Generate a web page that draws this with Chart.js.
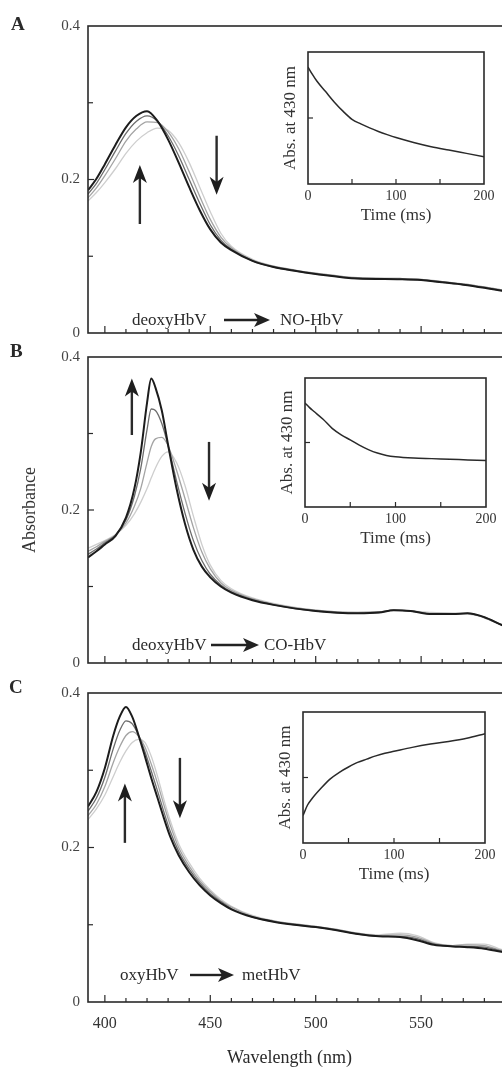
<!DOCTYPE html>
<html>
<head>
<meta charset="utf-8">
<script src="https://cdn.jsdelivr.net/npm/chart.js@4.4.1/dist/chart.umd.min.js"></script>
<style>
  html, body { margin: 0; padding: 0; background: #fff; overflow: hidden; }
  #page { position: relative; width: 502px; height: 1067px; overflow: hidden;
          font-family: "Liberation Serif", "DejaVu Serif", serif; color: #2a2a2a; }
  canvas { position: absolute; }
  .lbl { position: absolute; white-space: nowrap; font-size: 17px; line-height: 20px; }
  .panel { position: absolute; font-weight: bold; font-size: 19px; line-height: 20px; }
  .arr { position: absolute; }
</style>
</head>
<body>
<div id="page">
  <canvas id="mainA" width="530" height="350" style="left:0;top:0"></canvas>
  <canvas id="mainB" width="530" height="340" style="left:0;top:340px"></canvas>
  <canvas id="mainC" width="530" height="397" style="left:0;top:670px"></canvas>
  <canvas id="insetA"></canvas>
  <canvas id="insetB"></canvas>
  <canvas id="insetC"></canvas>

  <div class="panel" style="left:11px;top:14px">A</div>
  <div class="panel" style="left:10px;top:341px">B</div>
  <div class="panel" style="left:9px;top:677px">C</div>

  <!-- reaction labels -->
  <div class="lbl" style="left:132px;top:310px">deoxyHbV</div>
  <svg class="arr" style="left:224px;top:312px" width="46" height="16"><line x1="0" y1="8" x2="34" y2="8" stroke="#222" stroke-width="2.4"/><polygon points="30,1 46,8 30,15 34,8" fill="#222"/></svg>
  <div class="lbl" style="left:280px;top:310px">NO-HbV</div>

  <div class="lbl" style="left:132px;top:635px">deoxyHbV</div>
  <svg class="arr" style="left:211px;top:637px" width="48" height="16"><line x1="0" y1="8" x2="36" y2="8" stroke="#222" stroke-width="2.4"/><polygon points="32,1 48,8 32,15 36,8" fill="#222"/></svg>
  <div class="lbl" style="left:264px;top:635px">CO-HbV</div>

  <div class="lbl" style="left:120px;top:965px">oxyHbV</div>
  <svg class="arr" style="left:190px;top:967px" width="44" height="16"><line x1="0" y1="8" x2="32" y2="8" stroke="#222" stroke-width="2.4"/><polygon points="28,1 44,8 28,15 32,8" fill="#222"/></svg>
  <div class="lbl" style="left:242px;top:965px">metHbV</div>

  <div class="lbl" style="left:227px;top:1046px;font-size:18px;line-height:22px">Wavelength (nm)</div>
</div>

<script>
// ---- spectra (absorbance vs wavelength) ----
const wlA    = [392, 396, 400, 405, 410, 415, 420, 425, 430, 435, 440, 445, 450, 455, 460, 470, 480, 490, 500, 520, 540, 550, 560, 570, 580, 595];
const endA   = [0.186, 0.201, 0.220, 0.245, 0.268, 0.283, 0.289, 0.276, 0.252, 0.222, 0.190, 0.160, 0.135, 0.118, 0.108, 0.094, 0.086, 0.081, 0.077, 0.071, 0.070, 0.069, 0.066, 0.063, 0.059, 0.052];
const mid2A  = [0.181, 0.195, 0.213, 0.237, 0.260, 0.276, 0.283, 0.276, 0.257, 0.231, 0.200, 0.169, 0.141, 0.121, 0.109, 0.094, 0.086, 0.081, 0.077, 0.071, 0.070, 0.069, 0.066, 0.063, 0.059, 0.052];
const mid1A  = [0.176, 0.189, 0.205, 0.227, 0.250, 0.266, 0.275, 0.274, 0.262, 0.240, 0.210, 0.178, 0.148, 0.125, 0.111, 0.095, 0.087, 0.082, 0.078, 0.072, 0.071, 0.070, 0.067, 0.064, 0.060, 0.053];
const startA = [0.172, 0.183, 0.196, 0.214, 0.234, 0.250, 0.261, 0.267, 0.264, 0.248, 0.222, 0.190, 0.158, 0.130, 0.113, 0.096, 0.087, 0.082, 0.078, 0.072, 0.071, 0.070, 0.067, 0.064, 0.060, 0.053];

const wlB    = [392, 396, 400, 405, 410, 414, 417, 420, 422, 424, 427, 430, 434, 438, 442, 446, 450, 455, 460, 470, 480, 500, 520, 530, 537, 545, 555, 565, 572, 580, 588, 595];
const endB   = [0.138, 0.146, 0.155, 0.166, 0.190, 0.228, 0.275, 0.340, 0.372, 0.360, 0.330, 0.285, 0.228, 0.182, 0.148, 0.126, 0.112, 0.100, 0.092, 0.082, 0.076, 0.068, 0.065, 0.066, 0.069, 0.068, 0.064, 0.064, 0.065, 0.060, 0.050, 0.043];
const mid2B  = [0.142, 0.149, 0.157, 0.167, 0.187, 0.218, 0.254, 0.305, 0.332, 0.330, 0.313, 0.284, 0.238, 0.196, 0.160, 0.134, 0.116, 0.102, 0.093, 0.083, 0.076, 0.068, 0.065, 0.066, 0.069, 0.068, 0.064, 0.064, 0.065, 0.059, 0.050, 0.043];
const mid1B  = [0.146, 0.152, 0.159, 0.167, 0.183, 0.205, 0.228, 0.262, 0.283, 0.293, 0.295, 0.284, 0.252, 0.215, 0.177, 0.145, 0.123, 0.105, 0.095, 0.084, 0.077, 0.069, 0.066, 0.067, 0.069, 0.068, 0.065, 0.065, 0.065, 0.060, 0.050, 0.043];
const startB = [0.150, 0.155, 0.160, 0.168, 0.180, 0.195, 0.210, 0.228, 0.242, 0.255, 0.270, 0.276, 0.262, 0.232, 0.192, 0.155, 0.128, 0.108, 0.097, 0.085, 0.078, 0.069, 0.066, 0.067, 0.069, 0.068, 0.066, 0.065, 0.064, 0.060, 0.050, 0.043];

const wlC    = [392, 396, 400, 404, 407, 410, 413, 416, 419, 422, 425, 428, 431, 435, 440, 445, 450, 455, 460, 470, 480, 490, 500, 510, 520, 530, 540, 548, 556, 565, 572, 580, 588, 595];
const endC   = [0.253, 0.272, 0.303, 0.345, 0.369, 0.382, 0.369, 0.345, 0.318, 0.290, 0.264, 0.238, 0.214, 0.190, 0.168, 0.151, 0.138, 0.128, 0.120, 0.110, 0.104, 0.100, 0.097, 0.093, 0.088, 0.085, 0.084, 0.080, 0.074, 0.072, 0.071, 0.069, 0.065, 0.062];
const mid2C  = [0.247, 0.264, 0.291, 0.328, 0.351, 0.364, 0.360, 0.345, 0.324, 0.299, 0.273, 0.246, 0.221, 0.195, 0.172, 0.154, 0.140, 0.130, 0.121, 0.110, 0.104, 0.100, 0.097, 0.093, 0.088, 0.085, 0.085, 0.082, 0.075, 0.072, 0.072, 0.071, 0.066, 0.062];
const mid1C  = [0.241, 0.256, 0.279, 0.310, 0.330, 0.345, 0.350, 0.344, 0.330, 0.308, 0.283, 0.255, 0.229, 0.200, 0.176, 0.157, 0.143, 0.131, 0.123, 0.111, 0.105, 0.101, 0.098, 0.094, 0.089, 0.086, 0.087, 0.084, 0.076, 0.073, 0.074, 0.073, 0.067, 0.063];
const startC = [0.236, 0.250, 0.268, 0.292, 0.310, 0.325, 0.336, 0.340, 0.336, 0.318, 0.292, 0.262, 0.235, 0.205, 0.180, 0.160, 0.145, 0.133, 0.124, 0.112, 0.105, 0.101, 0.098, 0.094, 0.089, 0.087, 0.089, 0.086, 0.077, 0.073, 0.075, 0.075, 0.068, 0.063];

// ---- inset kinetics (Abs. at 430 nm, relative units) ----
const timeMs = [0, 5, 10, 20, 30, 40, 50, 60, 70, 80, 90, 100, 120, 140, 160, 180, 200];
const insetA = [0.886, 0.83, 0.78, 0.70, 0.62, 0.55, 0.49, 0.455, 0.425, 0.398, 0.374, 0.352, 0.315, 0.283, 0.257, 0.232, 0.207];
const insetB = [0.806, 0.77, 0.74, 0.68, 0.61, 0.56, 0.52, 0.48, 0.445, 0.418, 0.40, 0.39, 0.38, 0.375, 0.37, 0.365, 0.36];
const insetC = [0.21, 0.29, 0.34, 0.42, 0.49, 0.54, 0.58, 0.615, 0.64, 0.665, 0.685, 0.70, 0.73, 0.755, 0.775, 0.80, 0.835];

// ---- ticks ----
const wlLabelTicks = [400, 450, 500, 550];
const absLabelTicks = [0, 0.2, 0.4];
const timeLabelTicks = [0, 100, 200];

// arrows showing the direction of change (wavelength, from, to)
const arrowsA = [{ nm: 416.6, from: 0.142, to: 0.219 }, { nm: 453, from: 0.257, to: 0.180 }];
const arrowsB = [{ nm: 412.8, from: 0.298, to: 0.372 }, { nm: 449.4, from: 0.289, to: 0.212 }];
const arrowsC = [{ nm: 409.5, from: 0.206, to: 0.283 }, { nm: 435.6, from: 0.316, to: 0.238 }];

const SHADES = ['#1c1c1c', '#6c6c6c', '#a4a4a4', '#cecece'];
const INK = '#2a2a2a';

Chart.defaults.font.family = '"Liberation Serif", "DejaVu Serif", serif';
Chart.defaults.color = '#333';

const wlMinor = [];
for (let w = 400; w <= 590; w += 10) wlMinor.push(w);

// box frame, inward ticks and arrows
const framePlugin = {
    id: 'frame',
    afterDatasetsDraw(chart, args, o) {
        const { ctx, chartArea: a } = chart;
        const x = chart.scales.x, y = chart.scales.y;
        ctx.save();
        ctx.strokeStyle = INK;
        ctx.lineWidth = 1.6;
        ctx.strokeRect(a.left, a.top, a.right - a.left, a.bottom - a.top);
        ctx.lineWidth = 1.2;
        const seg = (x1, y1, x2, y2) => { ctx.beginPath(); ctx.moveTo(x1, y1); ctx.lineTo(x2, y2); ctx.stroke(); };
        (o.xTicks || []).forEach(t => {
            const px = x.getPixelForValue(t.v);
            seg(px, a.bottom, px, a.bottom - t.len);
        });
        (o.yTicks || []).forEach(t => {
            const py = y.getPixelForValue(t.v);
            seg(a.left, py, a.left + t.len, py);
        });
        (o.arrows || []).forEach(ar => {
            const px = x.getPixelForValue(ar.nm);
            const y0 = y.getPixelForValue(ar.from);
            const y1 = y.getPixelForValue(ar.to);
            const dir = y1 < y0 ? -1 : 1;
            const headLen = 18, hw = 7;
            ctx.lineWidth = 2.4;
            seg(px, y0, px, y1 - dir * headLen * 0.7);
            ctx.fillStyle = '#1e1e1e';
            ctx.beginPath();
            ctx.moveTo(px, y1);
            ctx.lineTo(px - hw, y1 - dir * headLen);
            ctx.lineTo(px, y1 - dir * headLen * 0.72);
            ctx.lineTo(px + hw, y1 - dir * headLen);
            ctx.closePath();
            ctx.fill();
        });
        ctx.restore();
    }
};

function spectrumChart(id, wl, series, arrows, opt) {
    const datasets = series.map((vals, i) => ({
        data: vals.map((v, k) => ({ x: wl[k], y: v })),
        borderColor: SHADES[i],
        borderWidth: i === 0 ? 2 : 1.3,
        pointRadius: 0,
        cubicInterpolationMode: 'monotone',
        fill: false
    }));
    const xTicks = wlMinor.map(v => ({ v, len: v % 50 === 0 ? 7 : 4 }));
    const yTicks = [{ v: 0.1, len: 5 }, { v: 0.2, len: 6 }, { v: 0.3, len: 5 }];
    return new Chart(document.getElementById(id), {
        type: 'line',
        data: { datasets },
        options: {
            responsive: false,
            animation: false,
            events: [],
            layout: { padding: { top: opt.top, right: 14, left: 0, bottom: 0 } },
            plugins: {
                legend: { display: false },
                tooltip: { enabled: false },
                frame: { xTicks, yTicks, arrows }
            },
            scales: {
                x: {
                    type: 'linear', min: 392, max: 595,
                    grid: { display: false, drawTicks: false },
                    border: { display: false },
                    afterBuildTicks: s => { s.ticks = wlLabelTicks.map(v => ({ value: v })); },
                    afterFit: s => { s.height = opt.xh; },
                    ticks: { display: !!opt.xLabels, padding: 12, font: { size: 16 }, color: '#333', callback: v => String(v) }
                },
                y: {
                    min: 0, max: 0.4,
                    grid: { display: false, drawTicks: false },
                    border: { display: false },
                    afterBuildTicks: s => { s.ticks = absLabelTicks.map(v => ({ value: v })); },
                    afterFit: s => { s.width = 88; },
                    ticks: { padding: 8, font: { size: 15 }, color: '#444', callback: v => v === 0 ? '0' : v.toFixed(1) },
                    title: {
                        display: !!opt.yTitle, text: opt.yTitle || '',
                        font: { size: 18 }, color: '#333', padding: { top: 19, bottom: 0 }
                    }
                }
            }
        },
        plugins: [framePlugin]
    });
}

// box = [left, top, right, bottom] of the inset plot area on the page
function insetChart(id, box, vals) {
    const cv = document.getElementById(id);
    cv.width = box[2] - box[0] + 56;
    cv.height = box[3] - box[1] + 58;
    cv.style.left = (box[0] - 40) + 'px';
    cv.style.top = (box[1] - 12) + 'px';
    return new Chart(cv, {
        type: 'line',
        data: {
            datasets: [{
                data: vals.map((v, k) => ({ x: timeMs[k], y: v })),
                borderColor: INK, borderWidth: 1.5, pointRadius: 0,
                cubicInterpolationMode: 'monotone', fill: false
            }]
        },
        options: {
            responsive: false,
            animation: false,
            events: [],
            layout: { padding: { top: 12, right: 16, left: 0, bottom: 0 } },
            plugins: {
                legend: { display: false },
                tooltip: { enabled: false },
                frame: { xTicks: [50, 100, 150].map(v => ({ v, len: 5 })), yTicks: [{ v: 0.5, len: 5 }] }
            },
            scales: {
                x: {
                    type: 'linear', min: 0, max: 200,
                    grid: { display: false, drawTicks: false },
                    border: { display: false },
                    afterBuildTicks: s => { s.ticks = timeLabelTicks.map(v => ({ value: v })); },
                    afterFit: s => { s.height = 46; },
                    ticks: { padding: 4, font: { size: 14 }, color: '#333', maxRotation: 0 },
                    title: { display: true, text: 'Time (ms)', font: { size: 17 }, color: '#333', padding: { top: 0, bottom: 4 } }
                },
                y: {
                    min: 0, max: 1,
                    grid: { display: false, drawTicks: false },
                    border: { display: false },
                    ticks: { display: false },
                    afterFit: s => { s.width = 40; },
                    title: { display: true, text: 'Abs. at 430 nm', font: { size: 17 }, color: '#333', padding: { top: 12, bottom: 0 } }
                }
            }
        },
        plugins: [framePlugin]
    });
}

spectrumChart('mainA', wlA, [endA, mid2A, mid1A, startA], arrowsA, { top: 26, xh: 11 });
spectrumChart('mainB', wlB, [endB, mid2B, mid1B, startB], arrowsB, { top: 15, xh: 12, yTitle: 'Absorbance' });
spectrumChart('mainC', wlC, [endC, mid2C, mid1C, startC], arrowsC, { top: 23, xh: 65, xLabels: true });

insetChart('insetA', [308, 52, 484, 184], insetA);
insetChart('insetB', [305, 378, 486, 507], insetB);
insetChart('insetC', [303, 712, 485, 843], insetC);
</script>
</body>
</html>
